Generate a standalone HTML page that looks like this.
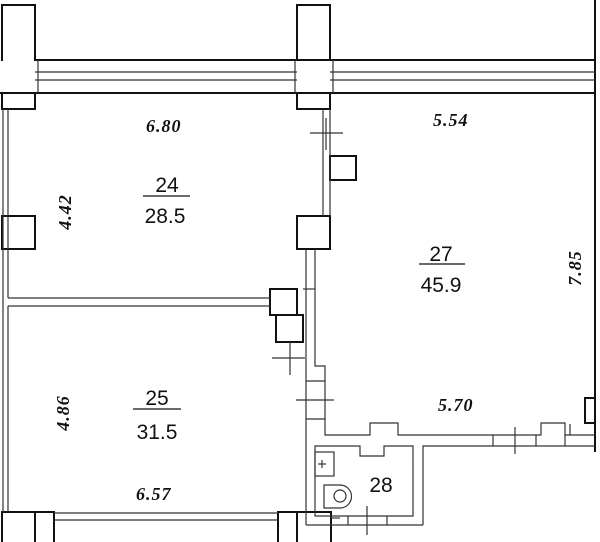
<!DOCTYPE html>
<html><head><meta charset="utf-8"><style>
html,body{margin:0;padding:0;background:#fff;width:600px;height:542px;overflow:hidden}
svg{display:block}
.d{font-family:"Liberation Serif",serif;font-style:italic;font-weight:bold;font-size:18px;fill:#111}
.n{font-family:"Liberation Sans",sans-serif;font-size:21px;fill:#111}
</style></head><body>
<svg width="600" height="542" viewBox="0 0 600 542" xmlns="http://www.w3.org/2000/svg">
<g fill="none" stroke="#111" stroke-width="2">
<path d="M1 60 H2 V5 H35 V60 H330 V5 H297 V60"/>
<path d="M2 5 H35 V60 M297 60 V5 H330 V60 H595"/>
<line x1="0" y1="93" x2="595" y2="93"/>
<rect x="2" y="93" width="33" height="16"/>
<rect x="297" y="93" width="33" height="16"/>
<line x1="595" y1="0" x2="595" y2="452"/>
<rect x="2" y="216" width="33" height="33"/>
<rect x="297" y="216" width="33" height="33"/>
<rect x="330" y="156" width="26" height="24"/>
<rect x="270" y="289" width="27" height="26"/>
<rect x="276" y="315" width="27" height="27"/>
<rect x="585" y="398" width="10" height="25"/>
<path d="M2 542 V512 H54 V542 M35 512 V542"/>
<path d="M278 542 V512 H331 V542 M297 512 V542"/>
</g>
<g fill="none" stroke="#333" stroke-width="1.2">
<line x1="35" y1="72" x2="297" y2="72"/><line x1="35" y1="80" x2="297" y2="80"/>
<line x1="330" y1="72" x2="595" y2="72"/><line x1="330" y1="80" x2="595" y2="80"/>
<line x1="38" y1="60" x2="38" y2="93"/><line x1="295" y1="60" x2="295" y2="93"/><line x1="333" y1="60" x2="333" y2="93"/>
<line x1="3" y1="109" x2="3" y2="512"/><line x1="8" y1="109" x2="8" y2="298"/><line x1="8" y1="306" x2="8" y2="512"/>
<line x1="8" y1="298" x2="270" y2="298"/><line x1="8" y1="306" x2="270" y2="306"/>
<line x1="323" y1="109" x2="323" y2="216"/><line x1="330" y1="109" x2="330" y2="216"/>
<line x1="310" y1="133" x2="343" y2="133"/><line x1="326" y1="118" x2="326" y2="150"/>
<line x1="306" y1="249" x2="306" y2="525"/>
<path d="M315 249 V366 H325 V435 H370 V423 H398 V435 H541 V423 H565 V435 H595"/>
<line x1="565" y1="435" x2="565" y2="446" />
<line x1="303" y1="289" x2="315" y2="289"/>
<line x1="272" y1="358" x2="305" y2="358"/><line x1="290" y1="342" x2="290" y2="375"/>
<line x1="306" y1="381" x2="325" y2="381"/><line x1="306" y1="419" x2="325" y2="419"/>
<line x1="296" y1="400" x2="334" y2="400"/>
<path d="M423 525 V446 H595"/>
<line x1="493" y1="435" x2="493" y2="446"/><line x1="536" y1="435" x2="536" y2="446"/>
<line x1="515" y1="427" x2="515" y2="454"/>
<line x1="570" y1="435" x2="570" y2="424"/>
<path d="M315 446 H360 V456 H384 V446 H413 V516 H315 Z"/>
<line x1="306" y1="525" x2="423" y2="525"/>
<rect x="315" y="452" width="19" height="24"/>
<line x1="318" y1="464" x2="326" y2="464"/><line x1="322" y1="460" x2="322" y2="468"/>
<path d="M324 485 H340 A11.5 11.5 0 0 1 340 508 H324 Z"/>
<circle cx="340" cy="496" r="6"/>
<line x1="348" y1="516" x2="348" y2="525"/><line x1="387" y1="516" x2="387" y2="525"/>
<line x1="367" y1="506" x2="367" y2="535"/>
<line x1="54" y1="513" x2="278" y2="513"/><line x1="54" y1="520" x2="278" y2="520"/>
<line x1="331" y1="518" x2="340" y2="518"/>
</g>
<text class="d" x="146" y="132" letter-spacing="1">6.80</text>
<text class="d" x="433" y="126" letter-spacing="1">5.54</text>
<text class="d" x="438" y="411" letter-spacing="1">5.70</text>
<text class="d" x="136" y="500" letter-spacing="1">6.57</text>
<text class="d" transform="translate(71,212) rotate(-90)" text-anchor="middle" letter-spacing="1">4.42</text>
<text class="d" transform="translate(69,413) rotate(-90)" text-anchor="middle" letter-spacing="1">4.86</text>
<text class="d" transform="translate(581,268) rotate(-90)" text-anchor="middle" letter-spacing="1">7.85</text>
<g class="n" text-anchor="middle">
<text x="167" y="192">24</text><text x="165" y="223">28.5</text>
<text x="441" y="261">27</text><text x="441" y="292">45.9</text>
<text x="157" y="405">25</text><text x="157" y="439">31.5</text>
<text x="381" y="492">28</text>
</g>
<g stroke="#111" stroke-width="1.3">
<line x1="143" y1="196" x2="190" y2="196"/>
<line x1="419" y1="264" x2="465" y2="264"/>
<line x1="133" y1="409" x2="181" y2="409"/>
</g>
</svg>
</body></html>
